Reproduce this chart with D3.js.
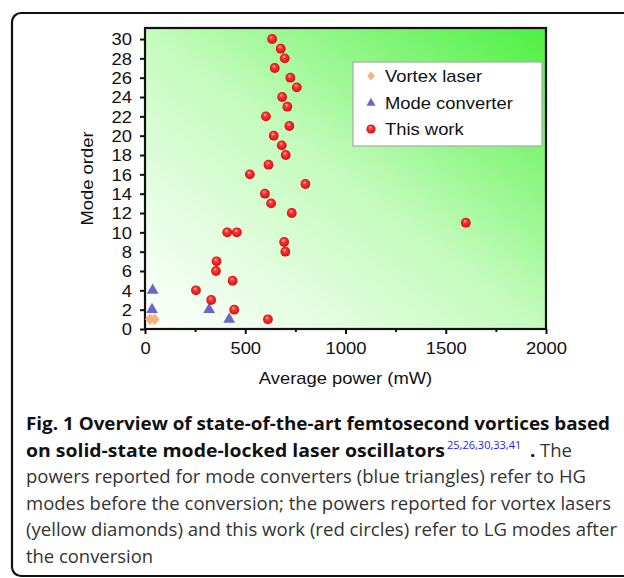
<!DOCTYPE html>
<html>

<head>
  <meta http-equiv="Content-Type" content="text/html;charset=utf-8">
  <title>Femtosecond vortices</title>
  <script src="https://d3js.org/d3.v7.min.js"></script>
  <style>
    html,
    body {
      margin: 0;
      padding: 0;
      background: #fff;
      overflow: hidden;
    }

    svg {
      display: block;
    }

    .chart text {
      font-family: "Liberation Sans", Arial, Helvetica, sans-serif;
      fill: #111;
    }

    .caption text {
      font-family: "Open Sans", sans-serif;
      font-size: 18.5px;
    }
  </style>
</head>

<body>

  <script type="text/javascript">

    // this work (red circles)
    var workPower = [634, 677, 697, 647, 725, 757, 684, 710, 603, 720, 642, 682, 702, 616, 523,
      800, 598, 629, 732, 1600, 410, 458, 694, 700, 357, 354, 437, 254, 330, 445, 613];
    var workOrder = [30, 29, 28, 27, 26, 25, 24, 23, 22, 21, 20, 19, 18, 17, 16,
      15, 14, 13, 12, 11, 10, 10, 9, 8, 7, 6, 5, 4, 3, 2, 1];

    // mode converters (blue triangles)
    var convPower = [38, 35, 320, 420];
    var convOrder = [4, 2, 2, 1];

    // vortex lasers (orange diamonds)
    var vortexPower = [25, 48];
    var vortexOrder = [1, 1];

    var xTicks = [0, 500, 1000, 1500, 2000];
    var xMinor = [250, 750, 1250, 1750];
    var yTicks = d3.range(0, 31, 2);
    var legendNames = ["Vortex laser", "Mode converter", "This work"];

    var SX = 1.15; // horizontal stretch of the chart lettering
    var FONT = "'Liberation Sans', Arial, sans-serif";

    var svg = d3.select("body").append("svg")
      .attr("width", 624)
      .attr("height", 578);

    var defs = svg.append("defs");

    var bg = defs.append("linearGradient").attr("id", "bg")
      .attr("x1", 0).attr("y1", 1).attr("x2", 1).attr("y2", 0);
    bg.append("stop").attr("offset", 0).attr("stop-color", "#ffffff");
    bg.append("stop").attr("offset", 0.5).attr("stop-color", "#c4fbbd");
    bg.append("stop").attr("offset", 1).attr("stop-color", "#4cf040");

    var ball = defs.append("radialGradient").attr("id", "ball")
      .attr("cx", 0.5).attr("cy", 0.5).attr("r", 0.55)
      .attr("fx", 0.4).attr("fy", 0.3);
    ball.append("stop").attr("offset", 0).attr("stop-color", "#ffd6d6");
    ball.append("stop").attr("offset", 0.3).attr("stop-color", "#ff3b3b");
    ball.append("stop").attr("offset", 0.8).attr("stop-color", "#e41414");
    ball.append("stop").attr("offset", 1).attr("stop-color", "#b80a0a");

    // card outline, open to the right
    svg.append("path")
      .attr("d", "M640,13H21A9,9 0 0 0 12,22V567A9,9 0 0 0 21,576H640")
      .style("fill", "none")
      .style("stroke", "#111")
      .style("stroke-width", 2.2);

    var chart = svg.append("g").attr("class", "chart");

    var x = d3.scaleLinear().domain([0, 2000]).range([145, 546]);
    var y = d3.scaleLinear().domain([0, 31.14]).range([329, 28]);

    chart.append("rect")
      .attr("x", x(0)).attr("y", y(31.14))
      .attr("width", x(2000) - x(0))
      .attr("height", y(0) - y(31.14))
      .style("fill", "url(#bg)");

    // axes
    var yAxis = chart.append("g")
      .attr("transform", "translate(" + x(0) + ",0)")
      .call(d3.axisLeft(y).tickValues(yTicks).tickSize(5).tickPadding(8));

    var xAxis = chart.append("g")
      .attr("transform", "translate(0," + y(0) + ")")
      .call(d3.axisBottom(x).tickValues(xTicks).tickFormat(d3.format("d")).tickSize(5).tickPadding(9));

    chart.append("g")
      .attr("transform", "translate(0," + y(0) + ")")
      .call(d3.axisBottom(x).tickValues(xMinor).tickSize(3).tickFormat(""));

    chart.selectAll(".domain").remove();
    chart.selectAll(".tick line").style("stroke", "#111").style("stroke-width", 2);

    yAxis.selectAll("text")
      .style("font-family", FONT)
      .style("font-size", "16px")
      .attr("transform", "scale(" + SX + ",1)")
      .attr("x", -13 / SX)
      .attr("dy", "0.36em");
    xAxis.selectAll("text")
      .style("font-family", FONT)
      .style("font-size", "16px")
      .attr("transform", "scale(" + SX + ",1)");

    // frame
    chart.append("rect")
      .attr("x", x(0)).attr("y", y(31.14))
      .attr("width", x(2000) - x(0))
      .attr("height", y(0) - y(31.14))
      .style("fill", "none")
      .style("stroke", "#111")
      .style("stroke-width", 2.2);

    function label(g, tx, ty, str, anchor, rot) {
      return g.append("text")
        .attr("transform", "translate(" + tx + "," + ty + ")" + (rot ? " rotate(" + rot + ")" : "") + " scale(" + SX + ",1)")
        .attr("text-anchor", anchor)
        .style("font-family", FONT)
        .style("font-size", "16px")
        .text(str);
    }

    label(chart, (x(0) + x(2000)) / 2, 384, "Average power (mW)", "middle");
    label(chart, 93, (y(0) + y(31.14)) / 2, "Mode order", "middle", -90);

    // marks
    var diamond = "M0,-6L5,0L0,6L-5,0Z";

    chart.selectAll(".vortex")
      .data(vortexPower)
      .enter().append("path")
      .attr("class", "vortex")
      .attr("d", diamond)
      .attr("transform", function (d, i) { return "translate(" + x(d) + "," + y(vortexOrder[i]) + ")"; })
      .style("fill", "#f9b07c");

    chart.selectAll(".conv")
      .data(convPower)
      .enter().append("path")
      .attr("class", "conv")
      .attr("d", d3.symbol().type(d3.symbolTriangle).size(60))
      .attr("transform", function (d, i) { return "translate(" + x(d) + "," + y(convOrder[i]) + ")"; })
      .style("fill", "#6666cc");

    chart.selectAll(".work")
      .data(workPower)
      .enter().append("circle")
      .attr("class", "work")
      .attr("cx", function (d) { return x(d); })
      .attr("cy", function (d, i) { return y(workOrder[i]); })
      .attr("r", 4.9)
      .style("fill", "url(#ball)");

    // legend
    var lg = chart.append("g");
    lg.append("rect")
      .attr("x", 353).attr("y", 62)
      .attr("width", 189).attr("height", 84)
      .style("fill", "#fff")
      .style("stroke", "#a8a8a8")
      .style("stroke-width", 1.2);

    var rows = [76, 102.5, 129];
    lg.append("path").attr("d", "M0,-4.5L3.8,0L0,4.5L-3.8,0Z")
      .attr("transform", "translate(371," + rows[0] + ")").style("fill", "#f9b07c");
    lg.append("path").attr("d", d3.symbol().type(d3.symbolTriangle).size(36))
      .attr("transform", "translate(371," + (rows[1] + 0.5) + ")").style("fill", "#6666cc");
    lg.append("circle").attr("cx", 371).attr("cy", rows[2]).attr("r", 4.6).style("fill", "url(#ball)");

    legendNames.forEach(function (n, i) {
      label(lg, 385, rows[i] + 6, n, "start");
    });

    // caption: each piece fitted to the width it has in the figure
    var cap = svg.append("g").attr("class", "caption");
    var base = [430, 456.5, 483, 509.5, 536, 562.5];

    function capText(tx, ty, str, len, bold, color, size) {
      var t = cap.append("text")
        .attr("x", tx).attr("y", ty)
        .style("font-weight", bold ? 700 : 400)
        .style("fill", color)
        .style("font-size", size || null)
        .text(str);
      if (len) t.attr("textLength", len).attr("lengthAdjust", "spacingAndGlyphs");
      return t;
    }

    capText(26, base[0], "Fig. 1 Overview of state-of-the-art femtosecond vortices based", 584, true, "#111");
    capText(26, base[1], "on solid-state mode-locked laser oscillators", 419, true, "#111");
    capText(447, base[1] - 8, "25,26,30,33,41", null, false, "#1a1aff", "11px");
    // trailing full stop and "The" on one text so they cannot collide
    var tail = cap.append("text").attr("x", 530).attr("y", base[1]);
    tail.append("tspan").style("font-weight", 700).style("fill", "#111").text(".");
    tail.append("tspan").style("fill", "#333").text("  The");
    capText(26, base[2], "powers reported for mode converters (blue triangles) refer to HG", 560, false, "#333");
    capText(26, base[3], "modes before the conversion; the powers reported for vortex lasers", 585, false, "#333");
    capText(26, base[4], "(yellow diamonds) and this work (red circles) refer to LG modes after", 591, false, "#333");
    capText(26, base[5], "the conversion", 127, false, "#333");

  </script>
</body>

</html>
